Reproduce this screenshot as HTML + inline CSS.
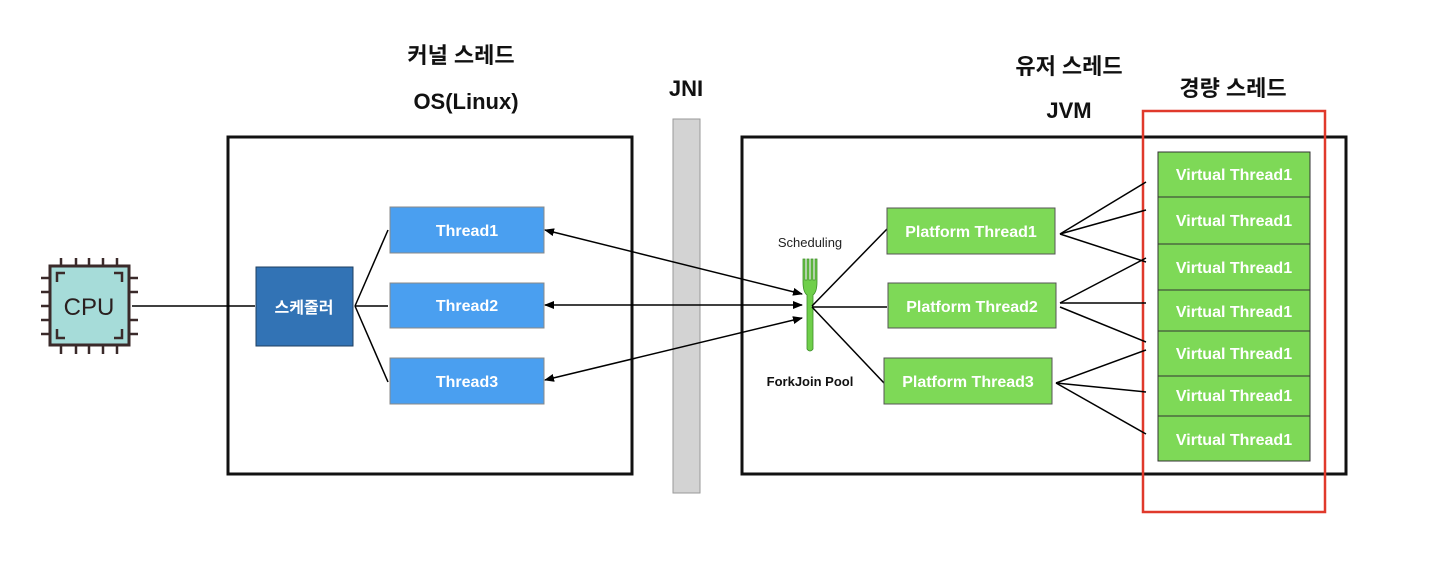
<!DOCTYPE html>
<html><head><meta charset="utf-8"><style>
body{margin:0;background:#fff;width:1434px;height:570px;overflow:hidden}
text{font-family:"Liberation Sans","Noto Sans CJK KR",sans-serif}
</style></head><body>
<svg width="1434" height="570" viewBox="0 0 1434 570" xmlns="http://www.w3.org/2000/svg">
<defs>
<marker id="a" markerWidth="10" markerHeight="8" refX="9" refY="4" orient="auto" markerUnits="userSpaceOnUse"><path d="M0,0 L10,4 L0,8 z" fill="#000"/></marker>
<marker id="b" markerWidth="10" markerHeight="8" refX="1" refY="4" orient="auto" markerUnits="userSpaceOnUse"><path d="M10,0 L0,4 L10,8 z" fill="#000"/></marker>
</defs>
<g font-weight="bold" font-size="22" fill="#111" text-anchor="middle">
<text x="461" y="63">커널 스레드</text>
<text x="466" y="109">OS(Linux)</text>
<text x="686" y="96">JNI</text>
<text x="1069" y="74">유저 스레드</text>
<text x="1069" y="118">JVM</text>
<text x="1233" y="96">경량 스레드</text>
</g>
<rect x="228" y="137" width="404" height="337" fill="none" stroke="#111" stroke-width="3"/>
<rect x="742" y="137" width="604" height="337" fill="none" stroke="#111" stroke-width="3"/>
<rect x="673" y="119" width="27" height="374" fill="#d3d3d3" stroke="#999" stroke-width="1"/>
<rect x="1143" y="111" width="182" height="401" fill="none" stroke="#e0392b" stroke-width="2.5"/>
<g stroke="#3a2a2a" stroke-width="2.5">
<line x1="61" y1="258" x2="61" y2="268"/><line x1="76" y1="258" x2="76" y2="268"/><line x1="89" y1="258" x2="89" y2="268"/><line x1="103" y1="258" x2="103" y2="268"/><line x1="117" y1="258" x2="117" y2="268"/>
<line x1="61" y1="344" x2="61" y2="354"/><line x1="76" y1="344" x2="76" y2="354"/><line x1="89" y1="344" x2="89" y2="354"/><line x1="103" y1="344" x2="103" y2="354"/><line x1="117" y1="344" x2="117" y2="354"/>
<line x1="41" y1="278" x2="51" y2="278"/><line x1="41" y1="292" x2="51" y2="292"/><line x1="41" y1="306" x2="51" y2="306"/><line x1="41" y1="320" x2="51" y2="320"/><line x1="41" y1="334" x2="51" y2="334"/>
<line x1="128" y1="278" x2="138" y2="278"/><line x1="128" y1="292" x2="138" y2="292"/><line x1="128" y1="320" x2="138" y2="320"/><line x1="128" y1="334" x2="138" y2="334"/>
</g>
<rect x="50" y="266" width="79" height="79" fill="#a6dcd9" stroke="#3a2a2a" stroke-width="3"/>
<path d="M57,282 V273 H65 M114,273 H122 V282 M57,329 V338 H65 M114,338 H122 V329" fill="none" stroke="#3a2a2a" stroke-width="2.5"/>
<text x="89" y="315" font-size="24" text-anchor="middle" fill="#2a1f1f">CPU</text>
<line x1="132" y1="306" x2="255" y2="306" stroke="#000" stroke-width="1.5"/>
<rect x="256" y="267" width="97" height="79" fill="#3273b5" stroke="#1f3f60"/>
<text x="304" y="313" font-size="16" font-weight="bold" fill="#fff" text-anchor="middle">스케줄러</text>
<g stroke="#000" stroke-width="1.5">
<line x1="355" y1="306" x2="388" y2="230"/><line x1="355" y1="306" x2="388" y2="306"/><line x1="355" y1="306" x2="388" y2="382"/>
</g>
<g fill="#4a9ff0" stroke="#888">
<rect x="390" y="207" width="154" height="46"/><rect x="390" y="283" width="154" height="45"/><rect x="390" y="358" width="154" height="46"/>
</g>
<g font-size="16" font-weight="bold" fill="#fff" text-anchor="middle">
<text x="467" y="236">Thread1</text><text x="467" y="311">Thread2</text><text x="467" y="387">Thread3</text>
</g>
<g stroke="#000" stroke-width="1.5" marker-start="url(#b)" marker-end="url(#a)">
<line x1="545" y1="230" x2="802" y2="294"/>
<line x1="545" y1="305" x2="802" y2="305"/>
<line x1="545" y1="380" x2="802" y2="318"/>
</g>
<text x="810" y="247" font-size="13" text-anchor="middle" fill="#222">Scheduling</text>
<path d="M803,259 V282 Q803,292 807,295 V349 Q810,353 813,349 V295 Q817,292 817,282 V259 H815 V280 H813 V259 H811 V280 H809 V259 H807 V280 H805 V259 Z" fill="#6fcf4a" stroke="#3e8d2a" stroke-width="0.8"/>
<text x="810" y="386" font-size="13" font-weight="bold" text-anchor="middle" fill="#111">ForkJoin Pool</text>
<g stroke="#000" stroke-width="1.5">
<line x1="812" y1="306" x2="887" y2="229"/><line x1="812" y1="307" x2="887" y2="307"/><line x1="812" y1="307" x2="884" y2="383"/>
<line x1="1060" y1="234" x2="1146" y2="182"/><line x1="1060" y1="234" x2="1146" y2="210"/><line x1="1060" y1="234" x2="1146" y2="262"/>
<line x1="1060" y1="303" x2="1146" y2="258"/><line x1="1060" y1="303" x2="1146" y2="303"/><line x1="1060" y1="307" x2="1146" y2="342"/>
<line x1="1056" y1="383" x2="1146" y2="350"/><line x1="1056" y1="383" x2="1146" y2="392"/><line x1="1056" y1="383" x2="1146" y2="434"/>
</g>
<g fill="#7ed957" stroke="#555">
<rect x="887" y="208" width="168" height="46"/><rect x="888" y="283" width="168" height="45"/><rect x="884" y="358" width="168" height="46"/>
</g>
<g font-size="16" font-weight="bold" fill="#fff" text-anchor="middle">
<text x="971" y="237">Platform Thread1</text><text x="972" y="312">Platform Thread2</text><text x="968" y="387">Platform Thread3</text>
</g>
<g fill="#7ed957" stroke="#333">
<rect x="1158" y="152" width="152" height="45"/><rect x="1158" y="197" width="152" height="47"/><rect x="1158" y="244" width="152" height="46"/><rect x="1158" y="290" width="152" height="41"/><rect x="1158" y="331" width="152" height="45"/><rect x="1158" y="376" width="152" height="40"/><rect x="1158" y="416" width="152" height="45"/>
</g>
<g font-size="16" font-weight="bold" fill="#fff" text-anchor="middle">
<text x="1234" y="180">Virtual Thread1</text><text x="1234" y="226">Virtual Thread1</text><text x="1234" y="273">Virtual Thread1</text><text x="1234" y="317">Virtual Thread1</text><text x="1234" y="359">Virtual Thread1</text><text x="1234" y="401">Virtual Thread1</text><text x="1234" y="445">Virtual Thread1</text>
</g>
</svg>
</body></html>
